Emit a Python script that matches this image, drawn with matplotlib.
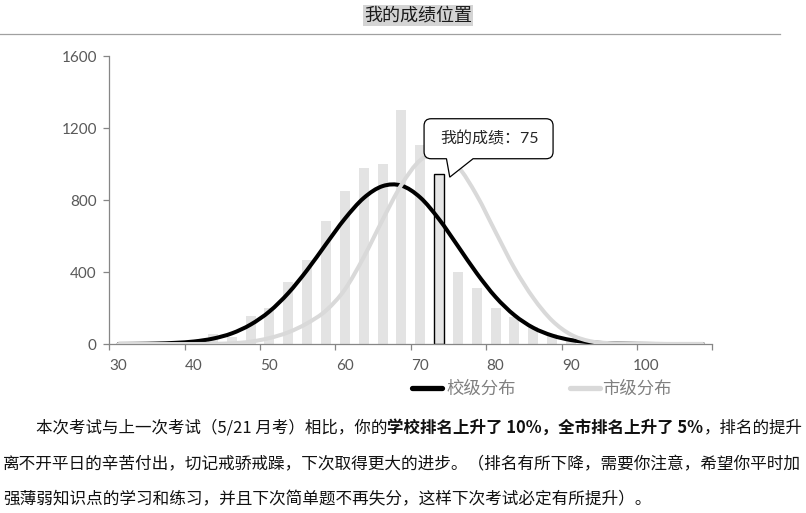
import matplotlib
matplotlib.use("Agg")
import matplotlib.pyplot as plt
from matplotlib.path import Path
from matplotlib.patches import PathPatch
from matplotlib.lines import Line2D
import matplotlib.transforms as mtransforms
import numpy as np

CJK = ['Noto Sans CJK SC', 'DejaVu Sans']
NUM = ['Lato', 'Noto Sans CJK SC', 'DejaVu Sans']
plt.rcParams['font.family'] = CJK

# ---------------- data ----------------
score_bins = [30, 32.5, 35, 37.5, 40, 42.5, 45, 47.5, 50, 52.5, 55, 57.5,
              60, 62.5, 65, 67.5, 70, 72.5, 75, 77.5, 80, 82.5, 85, 87.5,
              90, 92.5, 95, 97.5, 100, 102.5, 105, 107.5]
bin_counts = [0, 0, 0, 0, 0, 57, 40, 153, 200, 347, 468, 681,
              849, 977, 1001, 1301, 1107, 942, 399, 310, 199, 149, 97, 55,
              15, 5, 0, 0, 0, 0, 0, 0]
school_curve = [0.4, 1, 2.6, 6.4, 14, 30, 59, 108, 181, 283, 411, 555,
                696, 811, 877, 880, 814, 693, 544, 393, 261, 160, 90, 47,
                22, 10, 4, 1.5, 0.5, 0, 0, 0]
city_curve = [0, 0, 0, 0, 0, 1, 4, 13, 33, 65, 115, 186,
              303, 482, 689, 884, 1021, 1059, 986, 826, 622, 421, 256, 130,
              52, 16, 5, 1.5, 0.5, 0, 0, 0]
x_tick_labels = [30, 40, 50, 60, 70, 80, 90, 100]
y_ticks = [0, 400, 800, 1200, 1600]
my_score = 75
my_bin = 72.5
series_names = ['校级分布', '市级分布']
title = '我的成绩位置'
para_line1 = [('本次考试与上一次考试（5/21 月考）相比，你的', 'normal'),
              ('学校排名上升了 10%，全市排名上升了 5%', 'bold'),
              ('，排名的提升', 'normal')]
para_line2 = '离不开平日的辛苦付出，切记戒骄戒躁，下次取得更大的进步。（排名有所下降，需要你注意，希望你平时加'
para_line3 = '强薄弱知识点的学习和练习，并且下次简单题不再失分，这样下次考试必定有所提升）。'

# ---------------- figure ----------------
W, H = 806, 513
fig = plt.figure(figsize=(W / 100, H / 100), dpi=100)
fig.patch.set_facecolor('white')

def fx(px):
    return px / W

def fy(py):
    return 1 - py / H

ax = fig.add_axes([fx(109.3), fy(344), (712.3 - 109.3) / W, (344 - 56) / H])
step = score_bins[1] - score_bins[0]
ax.set_xlim(score_bins[0] - step / 2, score_bins[-1] + step / 2)
ax.set_ylim(y_ticks[0], y_ticks[-1])

bar_color = '#e3e3e3'
bars = ax.bar(score_bins, bin_counts, width=step * 0.53, color=bar_color,
              zorder=1, linewidth=0)
hi = score_bins.index(my_bin)
bars.patches[hi].set_edgecolor('black')
bars.patches[hi].set_linewidth(1.0)
bars.patches[hi].set_facecolor('#e6e6e6')
bars.patches[hi].set_zorder(2)


def smooth_path(xs, ys):
    pts = np.column_stack([xs, ys]).astype(float)
    n = len(pts)
    verts = [tuple(pts[0])]
    codes = [Path.MOVETO]
    for i in range(n - 1):
        p0 = pts[i - 1] if i > 0 else pts[i]
        p1 = pts[i]
        p2 = pts[i + 1]
        p3 = pts[i + 2] if i + 2 < n else pts[i + 1]
        c1 = p1 + (p2 - p0) / 6.0
        c2 = p2 - (p3 - p1) / 6.0
        verts += [tuple(c1), tuple(c2), tuple(p2)]
        codes += [Path.CURVE4] * 3
    return Path(verts, codes)

black_col = '#000000'
gray_col = '#d9d9d9'
ax.add_patch(PathPatch(smooth_path(score_bins, school_curve), fill=False,
                       edgecolor=black_col, lw=2.9, capstyle='round',
                       joinstyle='round', zorder=3))
ax.add_patch(PathPatch(smooth_path(score_bins, city_curve), fill=False,
                       edgecolor=gray_col, lw=2.9, capstyle='round',
                       joinstyle='round', zorder=4))

# axes styling
for s in ['top', 'right']:
    ax.spines[s].set_visible(False)
for s in ['left', 'bottom']:
    ax.spines[s].set_color('#868686')
    ax.spines[s].set_linewidth(0.9)
ax.set_yticks(y_ticks)
ax.set_yticklabels([str(v) for v in y_ticks])
ax.tick_params(axis='y', direction='out', length=4, width=0.9, color='#868686',
               labelcolor='#595959', labelsize=11, pad=5)
ax.set_xticks(x_tick_labels)
ax.set_xticklabels([str(v) for v in x_tick_labels])
ax.set_xticks([v - step / 2 for v in x_tick_labels] + [score_bins[-1] + step / 2],
              minor=True)
ax.tick_params(axis='x', which='major', length=0, labelcolor='#595959',
               labelsize=11, pad=11)
ax.tick_params(axis='x', which='minor', direction='out', length=4, width=0.9,
               color='#868686')
for lab in ax.get_xticklabels() + ax.get_yticklabels():
    lab.set_fontfamily(NUM)

# callout
anchor = mtransforms.ScaledTranslation(my_bin, bin_counts[hi], ax.transData)
tr = fig.dpi_scale_trans + anchor
L, R, B, T, r = -15.0, 114.0, 15.7, 55.7, 7.0
pb0, pb1 = 7.4, 34.0
tip = (10.7, -2.7)
vv = [(L + r, B), (pb0, B), tip, (pb1, B), (R - r, B),
      (R, B), (R, B + r), (R, T - r), (R, T), (R - r, T),
      (L + r, T), (L, T), (L, T - r), (L, B + r), (L, B), (L + r, B), (L + r, B)]
cc = [Path.MOVETO, Path.LINETO, Path.LINETO, Path.LINETO, Path.LINETO,
      Path.CURVE3, Path.CURVE3, Path.LINETO, Path.CURVE3, Path.CURVE3,
      Path.LINETO, Path.CURVE3, Path.CURVE3, Path.LINETO, Path.CURVE3, Path.CURVE3,
      Path.CLOSEPOLY]
vv = [(a / 100.0, b / 100.0) for a, b in vv]
callout = PathPatch(Path(vv, cc), facecolor='white', edgecolor='#000000', lw=0.9,
                    transform=tr, zorder=6, clip_on=False)
ax.add_patch(callout)
ax.text((L + R) / 200.0 + 0.01, (B + T) / 200.0, f'我的成绩：{my_score}',
        transform=tr, ha='center', va='center', fontsize=11.5, color='#262626',
        family=NUM, zorder=7)

# title and rule
fig.text(fx(418), fy(15.5), title, ha='center', va='center', fontsize=13,
         color='#1a1a1a', bbox=dict(facecolor='#d4d4d4', edgecolor='none', pad=1.0))
fig.add_artist(Line2D([0, fx(780)], [fy(34), fy(34)], color='#a0a0a0', lw=0.9))

# legend
leg_y = 388
fig.add_artist(Line2D([fx(412), fx(442)], [fy(leg_y), fy(leg_y)], color=black_col,
                      lw=3.8, solid_capstyle='round'))
fig.text(fx(446), fy(leg_y + 1), series_names[0], ha='left', va='center',
         fontsize=12.5, color='#808080')
fig.add_artist(Line2D([fx(570), fx(600)], [fy(leg_y), fy(leg_y)], color=gray_col,
                      lw=3.8, solid_capstyle='round'))
fig.text(fx(602), fy(leg_y + 1), series_names[1], ha='left', va='center',
         fontsize=12.5, color='#808080')

# paragraph
fig.canvas.draw()
rend = fig.canvas.get_renderer()
para_fs = 12
line1_start, line1_end = 36.0, 800.0

def draw_segments(fs):
    x = line1_start
    made = []
    for seg, wt in para_line1:
        t = fig.text(fx(x), fy(428), seg, ha='left', va='center', fontsize=fs,
                     fontweight=wt, color='#111111')
        bb = t.get_window_extent(renderer=rend)
        x += bb.width
        made.append(t)
    return made, x

made, xend = draw_segments(para_fs)
if xend > line1_end:
    for t in made:
        t.remove()
    fs1 = para_fs * (line1_end - line1_start) / (xend - line1_start)
    draw_segments(fs1)

fig.text(fx(3), fy(465), para_line2, ha='left', va='center', fontsize=para_fs,
         color='#111111')
fig.text(fx(3), fy(500), para_line3, ha='left', va='center', fontsize=para_fs,
         color='#111111')

fig.savefig('out.png', dpi=100, facecolor='white')
